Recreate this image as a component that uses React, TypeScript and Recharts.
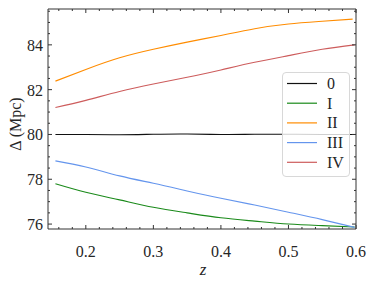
import { LineChart, Line, XAxis, YAxis } from "recharts";

// redshift samples and Δ (Mpc) per case
const zValues = [0.155, 0.2, 0.25, 0.3, 0.35, 0.4, 0.45, 0.5, 0.55, 0.598];
const case0 = [80.0, 80.0, 79.99, 80.01, 80.02, 80.0, 80.01, 80.01, 80.0, 80.0];
const caseI = [77.8, 77.42, 77.08, 76.75, 76.5, 76.28, 76.13, 76.0, 75.93, 75.87];
const caseII = [82.38, 82.9, 83.42, 83.8, 84.12, 84.42, 84.72, 84.93, 85.05, 85.15];
const caseIII = [78.82, 78.55, 78.15, 77.82, 77.48, 77.15, 76.85, 76.53, 76.2, 75.85];
const caseIV = [81.2, 81.52, 81.92, 82.25, 82.55, 82.88, 83.22, 83.52, 83.8, 84.0];

const xMajor = [0.2, 0.3, 0.4, 0.5, 0.6];
const xMinor = [0.16, 0.18, 0.22, 0.24, 0.26, 0.28, 0.32, 0.34, 0.36, 0.38, 0.42, 0.44, 0.46, 0.48, 0.52, 0.54, 0.56, 0.58];
const yMajor = [76, 78, 80, 82, 84];
const yMinor = [76.5, 77, 77.5, 78.5, 79, 79.5, 80.5, 81, 81.5, 82.5, 83, 83.5, 84.5, 85, 85.5];

const series = [
  { key: "c0", label: "0", values: case0, color: "#111111" },
  { key: "c1", label: "I", values: caseI, color: "#1a8a1a" },
  { key: "c2", label: "II", values: caseII, color: "#ff8c00" },
  { key: "c3", label: "III", values: caseIII, color: "#6495ed" },
  { key: "c4", label: "IV", values: caseIV, color: "#cd5c5c" },
];

const data = zValues.map((z, i) => {
  const row: Record<string, number> = { z };
  series.forEach((s) => {
    row[s.key] = s.values[i];
  });
  return row;
});
// orange curve stops a little short of the right edge
const orangeData = data.map((row, i) => (i === data.length - 1 ? { ...row, z: 0.595 } : row));

const FONT = "Liberation Serif";
const TXT = "#262626";
const FRAME = "#333";

const xTicks = [...xMajor, ...xMinor].sort((a, b) => a - b);
const yTicks = [...yMajor, ...yMinor].sort((a, b) => a - b);
const isMajor = (v: number, list: number[]) => list.some((m) => Math.abs(m - v) < 1e-6);

const BottomTick = (props: any) => {
  const { x, y, payload } = props;
  const major = isMajor(payload.value, xMajor);
  return (
    <g>
      <line x1={x} x2={x} y1={y} y2={y - (major ? 4 : 2)} stroke={FRAME} />
      {major && (
        <text x={x} y={y + 28} textAnchor="middle" fontFamily={FONT} fontSize={16} fill={TXT}>
          {payload.value.toFixed(1)}
        </text>
      )}
    </g>
  );
};

const TopTick = (props: any) => {
  const { x, y, payload } = props;
  const major = isMajor(payload.value, xMajor);
  return <line x1={x} x2={x} y1={y} y2={y + (major ? 4 : 2)} stroke={FRAME} />;
};

const LeftTick = (props: any) => {
  const { x, y, payload } = props;
  const major = isMajor(payload.value, yMajor);
  return (
    <g>
      <line x1={x} x2={x + (major ? 4 : 2)} y1={y} y2={y} stroke={FRAME} />
      {major && (
        <text x={x - 5} y={y + 6} textAnchor="end" fontFamily={FONT} fontSize={16} fill={TXT}>
          {payload.value}
        </text>
      )}
    </g>
  );
};

const RightTick = (props: any) => {
  const { x, y, payload } = props;
  const major = isMajor(payload.value, yMajor);
  return <line x1={x} x2={x - (major ? 4 : 2)} y1={y} y2={y} stroke={FRAME} />;
};

export default function App() {
  const xDomain = [0.144, 0.6];
  const yDomain = [75.78, 85.6];
  return (
    <div style={{ position: "absolute", left: 0, top: 0, width: 373, height: 285, background: "#fff" }}>
      <LineChart
        width={373}
        height={285}
        data={data}
        margin={{ top: 8, right: 16, bottom: 55, left: 47 }}
      >
        <XAxis
          xAxisId="b"
          dataKey="z"
          type="number"
          domain={xDomain}
          allowDataOverflow
          ticks={xTicks}
          interval={0}
          height={1}
          tickSize={0}
          tickMargin={0}
          tickLine={false}
          axisLine={{ stroke: FRAME }}
          tick={BottomTick}
        />
        <XAxis
          xAxisId="t"
          orientation="top"
          dataKey="z"
          type="number"
          domain={xDomain}
          allowDataOverflow
          ticks={xTicks}
          interval={0}
          height={1}
          tickSize={0}
          tickMargin={0}
          tickLine={false}
          axisLine={{ stroke: FRAME }}
          tick={TopTick}
        />
        <YAxis
          yAxisId="l"
          type="number"
          domain={yDomain}
          allowDataOverflow
          ticks={yTicks}
          interval={0}
          width={1}
          tickSize={0}
          tickMargin={0}
          tickLine={false}
          axisLine={{ stroke: FRAME }}
          tick={LeftTick}
        />
        <YAxis
          yAxisId="r"
          orientation="right"
          type="number"
          domain={yDomain}
          allowDataOverflow
          ticks={yTicks}
          interval={0}
          width={1}
          tickSize={0}
          tickMargin={0}
          tickLine={false}
          axisLine={{ stroke: FRAME }}
          tick={RightTick}
        />
        {series.map((s) => (
          <Line
            key={s.key}
            xAxisId="b"
            yAxisId="l"
            dataKey={s.key}
            data={s.key === "c2" ? orangeData : undefined}
            type="natural"
            stroke={s.color}
            strokeWidth={1.1}
            dot={false}
            activeDot={false}
            isAnimationActive={false}
          />
        ))}
        <text
          x={15.5}
          y={124}
          transform="rotate(-90 15.5 124)"
          textAnchor="middle"
          dominantBaseline="central"
          fontFamily={FONT}
          fontSize={16}
          fill={TXT}
        >
          Δ (Mpc)
        </text>
        <text x={203} y={275} textAnchor="middle" fontFamily={FONT} fontSize={17} fontStyle="italic" fill={TXT}>
          z
        </text>
      </LineChart>
      <div
        style={{
          position: "absolute",
          left: 282,
          top: 72,
          width: 68,
          height: 105,
          boxSizing: "border-box",
          border: "1px solid #d8d8d8",
          borderRadius: 4,
          background: "rgba(255,255,255,0.8)",
          zIndex: 2,
        }}
      >
        <svg width={66} height={103} style={{ position: "absolute", left: 0, top: 0 }}>
          {series.map((s, i) => (
            <g key={s.key}>
              <line x1={4} x2={34} y1={10.5 + i * 19.7} y2={10.5 + i * 19.7} stroke={s.color} strokeWidth={1.2} />
              <text x={44} y={16 + i * 19.7} fontFamily={FONT} fontSize={16} fill={TXT}>
                {s.label}
              </text>
            </g>
          ))}
        </svg>
      </div>
    </div>
  );
}
